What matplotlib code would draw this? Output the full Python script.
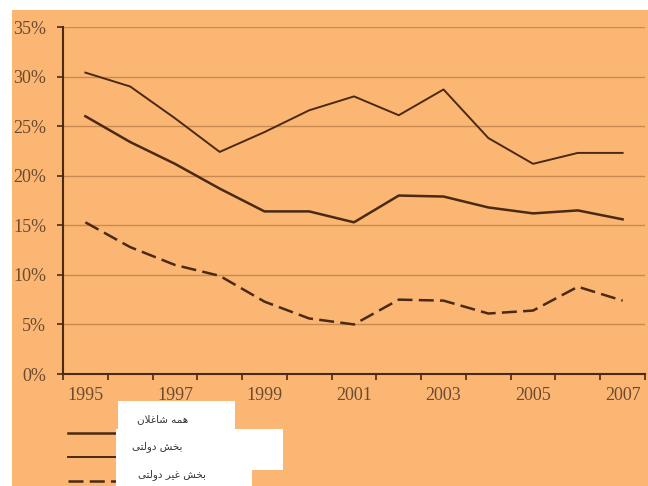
import matplotlib.pyplot as plt
from matplotlib.patches import Rectangle
from matplotlib.lines import Line2D

# years and the three employment series (percent)
years = list(range(1995, 2008))
all_employed = [26.0, 23.4, 21.2, 18.7, 16.4, 16.4, 15.3, 18.0, 17.9, 16.8, 16.2, 16.5, 15.6]
public_sector = [30.4, 29.0, 25.8, 22.4, 24.4, 26.6, 28.0, 26.1, 28.7, 23.8, 21.2, 22.3, 22.3]
private_sector = [15.3, 12.8, 11.0, 9.9, 7.3, 5.6, 5.0, 7.5, 7.4, 6.1, 6.4, 8.8, 7.4]
labels = ['همه شاغلان', 'بخش دولتی', 'بخش غیر دولتی']

# presentation forms (isolated, final, initial, medial); None = does not join left
FORMS = {
    'ا': ('\uFE8D', '\uFE8E', None, None),
    'ب': ('\uFE8F', '\uFE90', '\uFE91', '\uFE92'),
    'ت': ('\uFE95', '\uFE96', '\uFE97', '\uFE98'),
    'خ': ('\uFEA5', '\uFEA6', '\uFEA7', '\uFEA8'),
    'د': ('\uFEA9', '\uFEAA', None, None),
    'ر': ('\uFEAD', '\uFEAE', None, None),
    'ش': ('\uFEB5', '\uFEB6', '\uFEB7', '\uFEB8'),
    'غ': ('\uFECD', '\uFECE', '\uFECF', '\uFED0'),
    'ل': ('\uFEDD', '\uFEDE', '\uFEDF', '\uFEE0'),
    'م': ('\uFEE1', '\uFEE2', '\uFEE3', '\uFEE4'),
    'ن': ('\uFEE5', '\uFEE6', '\uFEE7', '\uFEE8'),
    'ه': ('\uFEE9', '\uFEEA', '\uFEEB', '\uFEEC'),
    'و': ('\uFEED', '\uFEEE', None, None),
    'ی': ('\uFBFC', '\uFBFD', '\uFBFE', '\uFBFF'),
}


# tiny persian shaper since matplotlib has no complex text layout
def shape(text):
    chars = list(text)
    out = []
    i = 0
    while i < len(chars):
        c = chars[i]
        if c not in FORMS:
            out.append(c)
            i += 1
            continue
        prev = chars[i - 1] if i > 0 else None
        joins_prev = prev in FORMS and FORMS[prev][2] is not None
        # lam + alef ligature
        if c == 'ل' and i + 1 < len(chars) and chars[i + 1] == 'ا':
            out.append('\uFEFC' if joins_prev else '\uFEFB')
            i += 2
            continue
        nxt = chars[i + 1] if i + 1 < len(chars) else None
        joins_next = FORMS[c][2] is not None and nxt in FORMS
        iso, fin, ini, med = FORMS[c]
        if joins_prev and joins_next:
            out.append(med)
        elif joins_prev:
            out.append(fin)
        elif joins_next:
            out.append(ini)
        else:
            out.append(iso)
        i += 1
    return ''.join(reversed(out))


bg = '#FBB674'
brown = '#4A2A12'
text_col = '#6B4A2E'

fig = plt.figure(figsize=(6.48, 4.86), dpi=100)
fig.patch.set_facecolor('white')
fig.patches.append(Rectangle((12 / 648, 0), 1, 1 - 10 / 486, transform=fig.transFigure,
                             facecolor=bg, edgecolor='none', zorder=-5))

ax = fig.add_axes([63 / 648, 112 / 486, 582 / 648, 347 / 486])
ax.set_facecolor(bg)
ax.patch.set_alpha(0)

ax.plot(years, public_sector, color=brown, lw=1.4, zorder=3)
ax.plot(years, all_employed, color=brown, lw=1.8, zorder=3)
ax.plot(years, private_sector, color=brown, lw=1.8, dashes=(6, 2.5), zorder=3)

ax.set_xlim(1994.5, 2007.5)
ax.set_ylim(0, 35)
ax.set_yticks(range(0, 36, 5))
ax.set_yticklabels([f'{v}%' for v in range(0, 36, 5)])
ax.set_xticks(years[::2])
ax.set_xticks([y - 0.5 for y in years] + [2007.5], minor=True)

ax.grid(axis='y', color='#C98A50', lw=1.0, zorder=1)
for s in ['top', 'right']:
    ax.spines[s].set_visible(False)
for s in ['left', 'bottom']:
    ax.spines[s].set_color(brown)
    ax.spines[s].set_linewidth(1.5)

ax.tick_params(axis='x', which='major', length=0, pad=9, labelsize=13, labelcolor=text_col)
ax.tick_params(axis='x', which='minor', length=4, width=1.2, color=brown)
ax.tick_params(axis='y', length=4, width=1.2, color=brown, pad=8, labelsize=13, labelcolor=text_col)
for t in ax.get_xticklabels() + ax.get_yticklabels():
    t.set_family('Liberation Serif')

# legend: sample lines with white label boxes laid over them
def fx(px):
    return px / 648


def fy(py):
    return 1 - py / 486


fig.add_artist(Line2D([fx(68), fx(120)], [fy(433), fy(433)], color=brown, lw=1.8))
fig.add_artist(Line2D([fx(68), fx(120)], [fy(457), fy(457)], color=brown, lw=1.4))
fig.add_artist(Line2D([fx(68), fx(120)], [fy(481), fy(481)], color=brown, lw=1.8, dashes=(6, 2.5)))

boxes = [(118, 401, 117, 29), (116, 429, 167, 41), (116, 470, 136, 16)]
for bx, by, bw, bh in boxes:
    fig.patches.append(Rectangle((fx(bx), fy(by + bh)), bw / 648, bh / 486,
                                 transform=fig.transFigure, facecolor='white',
                                 edgecolor='none', zorder=5))

text_pos = [(188, 419), (183, 447), (206, 475)]
for lab, (tx, ty) in zip(labels, text_pos):
    fig.text(fx(tx), fy(ty), shape(lab), ha='right', va='center', fontsize=7.5,
             color='#333333', family='DejaVu Sans', zorder=6)

fig.savefig('out.png', dpi=100)
